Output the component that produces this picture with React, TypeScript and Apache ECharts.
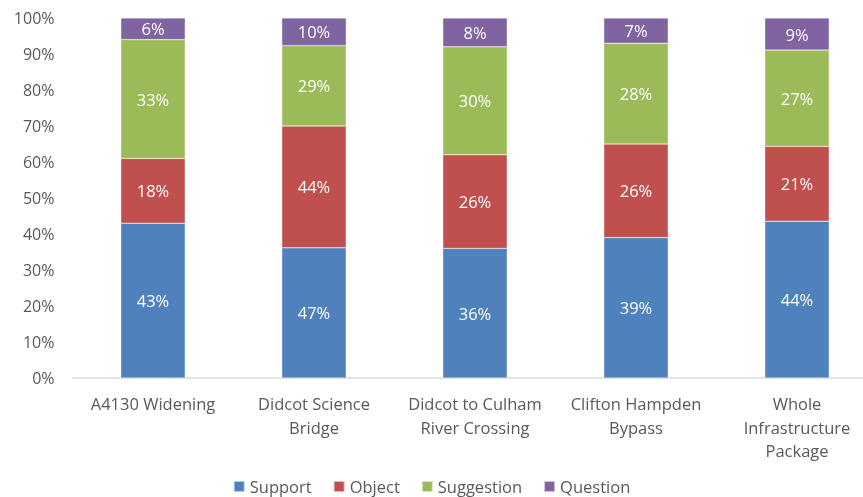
import React, { useEffect, useRef } from "react";
import * as echarts from "echarts";

const categories = [
  "A4130 Widening",
  "Didcot Science\nBridge",
  "Didcot to Culham\nRiver Crossing",
  "Clifton Hampden\nBypass",
  "Whole\nInfrastructure\nPackage",
];
const support = [43, 47, 36, 39, 44];
const object = [18, 44, 26, 26, 21];
const suggestion = [33, 29, 30, 28, 27];
const question = [6, 10, 8, 7, 9];
const yTicks = [0, 10, 20, 30, 40, 50, 60, 70, 80, 90, 100];

const seriesDefs = [
  { name: "Support", values: support, color: "#4F81BD" },
  { name: "Object", values: object, color: "#C0504D" },
  { name: "Suggestion", values: suggestion, color: "#9BBB59" },
  { name: "Question", values: question, color: "#8064A2" },
];

const FONT = "Open Sans";

export default function App() {
  const ref = useRef<HTMLDivElement>(null);
  useEffect(() => {
    if (!ref.current) return;
    const chart = echarts.init(ref.current, null, { renderer: "svg" });
    const totals = categories.map((_, i) =>
      seriesDefs.reduce((s, d) => s + d.values[i], 0)
    );
    chart.setOption({
      animation: false,
      textStyle: { fontFamily: FONT },
      grid: {
        left: 72.5,
        top: 18,
        width: 805,
        height: 360,
        containLabel: false,
        outerBoundsMode: "none",
      },
      legend: {
        top: 477,
        left: "center",
        padding: 0,
        icon: "rect",
        itemWidth: 11,
        itemHeight: 11,
        itemGap: 21,
        textStyle: {
          fontFamily: FONT,
          fontSize: 16.5,
          lineHeight: 19,
          color: "#595959",
        },
        data: seriesDefs.map((d) => d.name),
      },
      xAxis: {
        type: "category",
        data: categories,
        axisLine: { lineStyle: { color: "#D9D9D9", width: 1.5 } },
        axisTick: { show: false },
        axisLabel: {
          fontFamily: FONT,
          fontSize: 16.5,
          color: "#595959",
          margin: 14,
          lineHeight: 23.5,
          interval: 0,
        },
      },
      yAxis: {
        type: "value",
        min: 0,
        max: 100,
        interval: 10,
        splitLine: { show: false },
        axisLine: { show: false },
        axisTick: { show: false },
        axisLabel: {
          fontFamily: FONT,
          fontSize: 16,
          color: "#595959",
          margin: 18,
          formatter: (v: number) => (yTicks.includes(v) ? v + "%" : ""),
        },
      },
      series: seriesDefs.map((d) => ({
        name: d.name,
        type: "bar",
        stack: "total",
        barWidth: "40%",
        itemStyle: { color: d.color, borderColor: "rgba(255,255,255,0.6)", borderWidth: 0.5 },
        label: {
          show: true,
          position: "inside",
          color: "#FFFFFF",
          fontFamily: FONT,
          fontSize: 16.5,
          formatter: (p: any) => d.values[p.dataIndex] + "%",
        },
        data: d.values.map((v, i) => (v / totals[i]) * 100),
      })),
    });
    return () => chart.dispose();
  }, []);
  return (
    <div
      ref={ref}
      style={{ position: "fixed", left: 0, top: 0, width: 863, height: 497 }}
    />
  );
}
